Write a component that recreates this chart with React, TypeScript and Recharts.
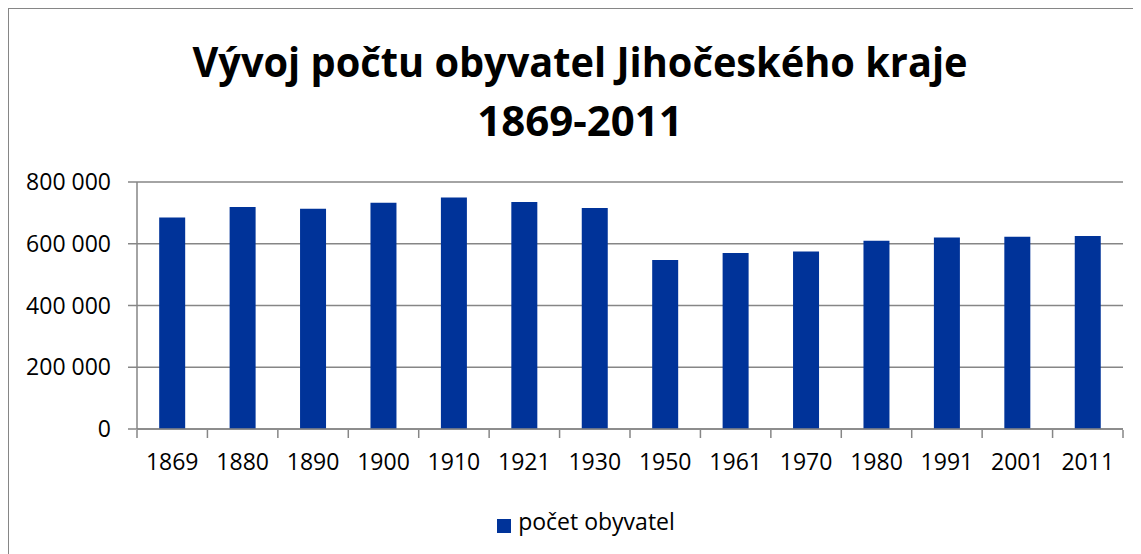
import React from 'react';
import { ComposedChart, Bar, Line, XAxis, YAxis, CartesianGrid, Legend } from 'recharts';

const years = ['1869', '1880', '1890', '1900', '1910', '1921', '1930', '1950', '1961', '1970', '1980', '1991', '2001', '2011'];
const population = [685000, 718800, 713300, 732800, 750000, 735000, 715600, 547700, 570400, 574700, 609400, 620100, 622400, 624700];
const yTicks = [0, 200000, 400000, 600000, 800000];
const boundaryTicks = [0, 1, 2, 3, 4, 5, 6, 7, 8, 9, 10, 11, 12, 13, 14];
const seriesName = 'počet obyvatel';
const titleLine1 = 'Vývoj počtu obyvatel Jihočeského kraje';
const titleLine2 = '1869-2011';

const data = years.map((y, i) => ({ year: y, idx: i + 0.5, value: population[i] }));

const fmt = (v: number) => String(v).replace(/\B(?=(\d{3})+(?!\d))/g, ' ');

const FONT = '"Open Sans", sans-serif';
const GRID = '#868686';

const EmptyTick = () => <g />;

export default function App() {
  return (
    <div
      style={{
        position: 'relative',
        width: 1131,
        height: 560,
        border: `1px solid ${GRID}`,
        boxSizing: 'border-box',
        background: '#fff',
        fontFamily: FONT,
      }}
    >
      <svg
        width={1129}
        height={150}
        style={{ position: 'absolute', left: 0, top: 0, pointerEvents: 'none' }}
      >
        <text
          x={571}
          y={68}
          textAnchor="middle"
          fontFamily={FONT}
          fontWeight={700}
          fontSize={42}
          textLength={775}
          lengthAdjust="spacingAndGlyphs"
          fill="#000"
        >
          {titleLine1}
        </text>
        <text
          x={571}
          y={127}
          textAnchor="middle"
          fontFamily={FONT}
          fontWeight={700}
          fontSize={42}
          fill="#000"
        >
          {titleLine2}
        </text>
      </svg>
      <ComposedChart
        width={1129}
        height={550}
        data={data}
        margin={{ top: 173, right: 15, left: 0, bottom: 22 }}
        barCategoryGap="31.5%"
        style={{ fontFamily: FONT }}
      >
        <CartesianGrid horizontal={true} vertical={false} stroke={GRID} strokeWidth={1.5} />
        <XAxis
          xAxisId="edges"
          type="number"
          dataKey="idx"
          domain={[0, 14]}
          ticks={boundaryTicks}
          interval={0}
          height={75}
          tick={EmptyTick}
          tickSize={8}
          axisLine={false}
          tickLine={{ stroke: GRID, strokeWidth: 1.5 }}
          allowDataOverflow
        />
        <XAxis
          xAxisId="cat"
          dataKey="year"
          height={1}
          axisLine={{ stroke: GRID, strokeWidth: 1.5 }}
          tickLine={false}
          tickSize={8}
          tickMargin={17}
          interval={0}
          tick={{ fill: '#000', fontSize: 23, fontFamily: FONT }}
        />
        <YAxis
          width={128}
          domain={[0, 800000]}
          ticks={yTicks}
          tickFormatter={fmt}
          tickSize={9}
          tickMargin={17}
          axisLine={{ stroke: GRID, strokeWidth: 1.5 }}
          tickLine={{ stroke: GRID, strokeWidth: 1.5 }}
          tick={{ fill: '#000', fontSize: 23, fontFamily: FONT }}
        />
        <Legend
          verticalAlign="bottom"
          align="center"
          iconType="square"
          iconSize={14}
          wrapperStyle={{ paddingLeft: 25 }}
          formatter={(v: string) => (
            <span style={{ color: '#000', fontSize: 23, fontFamily: FONT, marginLeft: 3 }}>{v}</span>
          )}
        />
        <Bar
          xAxisId="cat"
          dataKey="value"
          name={seriesName}
          fill="#003399"
          isAnimationActive={false}
        />
        <Line
          xAxisId="edges"
          dataKey="value"
          stroke="none"
          dot={false}
          activeDot={false}
          legendType="none"
          isAnimationActive={false}
        />
      </ComposedChart>
    </div>
  );
}
